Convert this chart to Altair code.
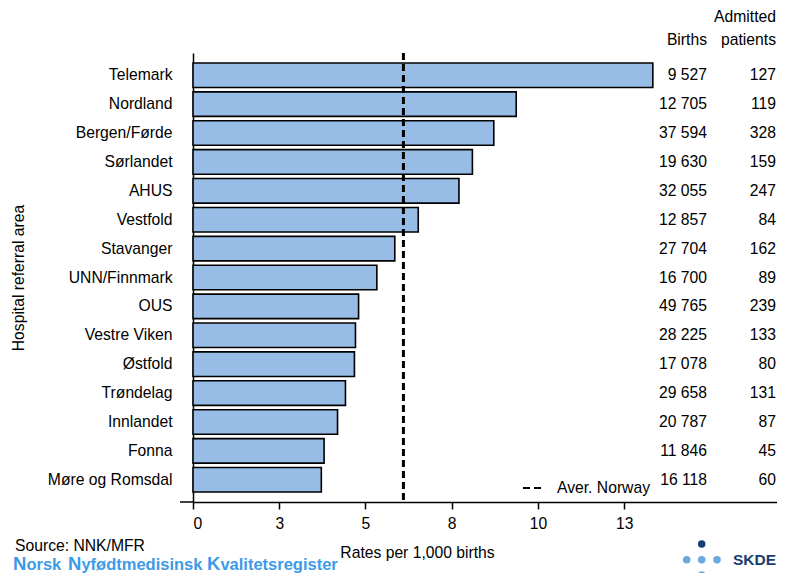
import altair as alt
import pandas as pd

# ---- data ----
areas = ["Telemark", "Nordland", "Bergen/Førde", "Sørlandet", "AHUS", "Vestfold",
         "Stavanger", "UNN/Finnmark", "OUS", "Vestre Viken", "Østfold", "Trøndelag",
         "Innlandet", "Fonna", "Møre og Romsdal"]
rates = [13.33, 9.37, 8.72, 8.10, 7.71, 6.53, 5.85, 5.33, 4.80, 4.71, 4.68, 4.42,
         4.19, 3.80, 3.72]
births = ["9 527", "12 705", "37 594", "19 630", "32 055", "12 857", "27 704", "16 700",
          "49 765", "28 225", "17 078", "29 658", "20 787", "11 846", "16 118"]
admitted = [127, 119, 328, 159, 247, 84, 162, 89, 239, 133, 80, 131, 87, 45, 60]
avg_norway = [6.1]
x_ticks = [0, 2.5, 5, 7.5, 10, 12.5]

W, H = 584, 449
FS = 15.7
FONT = "Liberation Sans"
NAVY = "#1b3c73"
LIGHT = "#6aa9e0"
REG_BLUE = "#3d9ae6"

df = pd.DataFrame({"area": areas, "rate": rates, "births": births, "admitted": admitted})
one = pd.DataFrame({"k": [0]})

xscale = alt.Scale(domain=[0, 16.93], nice=False, zero=True)
ysort = areas

bars = alt.Chart(df).mark_bar(fill="#97bce6", stroke="black", strokeWidth=1.6).encode(
    x=alt.X("rate:Q", scale=xscale,
            axis=alt.Axis(values=x_ticks, format=".0f", grid=False, tickSize=7,
                          tickColor="black", tickWidth=1.5, domainColor="black",
                          domainWidth=1.5, labelFontSize=FS, labelColor="black",
                          labelPadding=7, title="Rates per 1,000 births",
                          titleFontSize=FS, titleFontWeight="normal", titleColor="black",
                          titleX=224, titleY=50, titleAlign="center",
                          titleBaseline="middle")),
    y=alt.Y("area:N", sort=ysort,
            scale=alt.Scale(paddingInner=0.15, paddingOuter=0.345),
            axis=alt.Axis(ticks=False, tickSize=0, labelPadding=21, labelFontSize=FS,
                          labelColor="black", domainColor="black", domainWidth=1.5,
                          grid=False, title="Hospital referral area", titleFontSize=FS,
                          titleFontWeight="normal", titleColor="black", titleX=-175,
                          titleY=H / 2, titleAngle=-90, titleAlign="center",
                          titleBaseline="middle")),
)

avg_df = pd.DataFrame({"avg": avg_norway})
avg_rule = alt.Chart(avg_df).mark_rule(color="black", strokeWidth=3, strokeDash=[7, 4]).encode(
    x=alt.X("avg:Q", scale=xscale)
)

births_txt = alt.Chart(df).mark_text(align="right", baseline="middle", fontSize=FS,
                                     color="black").encode(
    y=alt.Y("area:N", sort=ysort), x=alt.value(514), text="births:N")
adm_txt = alt.Chart(df).mark_text(align="right", baseline="middle", fontSize=FS,
                                  color="black").encode(
    y=alt.Y("area:N", sort=ysort), x=alt.value(583), text="admitted:Q")


def label(txt, x, y, align="left", size=FS, weight="normal", color="black",
          baseline="middle"):
    return alt.Chart(one).mark_text(text=txt, align=align, baseline=baseline, fontSize=size,
                                    fontWeight=weight, color=color).encode(
        x=alt.value(x), y=alt.value(y))


def dot(x, y, color):
    return alt.Chart(one).mark_circle(size=57, color=color, opacity=1).encode(
        x=alt.value(x), y=alt.value(y))


axis_ext = alt.Chart(one).mark_rule(color="black", strokeWidth=1.5).encode(
    x=alt.value(-13), x2=alt.value(0), y=alt.value(H))

legend_dash = alt.Chart(one).mark_rule(color="black", strokeWidth=2, strokeDash=[7, 4]).encode(
    x=alt.value(330), x2=alt.value(348), y=alt.value(435))

REG_Y = 516.5  # alphabetic baseline of registry name
CAP = 18.5
LOW = 16.5
layers = [
    bars, avg_rule, births_txt, adm_txt, axis_ext, legend_dash,
    label("Aver. Norway", 364, 435),
    label("Births", 514, -13, align="right"),
    label("Admitted", 583, -36, align="right"),
    label("patients", 583, -13, align="right"),
    label("Source: NNK/MFR", -178, 493),
    # registry name with enlarged initials
    label("N", -180, REG_Y, size=CAP, weight="bold", color=REG_BLUE, baseline="alphabetic"),
    label("orsk", -166.6, REG_Y, size=LOW, weight="bold", color=REG_BLUE, baseline="alphabetic"),
    label("N", -125, REG_Y, size=CAP, weight="bold", color=REG_BLUE, baseline="alphabetic"),
    label("yfødtmedisinsk", -111.6, REG_Y, size=LOW, weight="bold", color=REG_BLUE,
          baseline="alphabetic"),
    label("K", 14, REG_Y, size=CAP, weight="bold", color=REG_BLUE, baseline="alphabetic"),
    label("valitetsregister", 27.4, REG_Y, size=LOW, weight="bold", color=REG_BLUE,
          baseline="alphabetic"),
    # SKDE logo
    dot(508.7, 491, NAVY),
    dot(493.7, 506.7, LIGHT), dot(508.7, 506.7, LIGHT), dot(524, 506.7, LIGHT),
    dot(508.7, 522, LIGHT),
    label("SKDE", 540, 506.5, size=15.5, weight="bold", color=NAVY),
]

chart = alt.layer(*layers).properties(
    width=W, height=H,
    autosize=alt.AutoSizeParams(type="none"),
    padding={"left": 185, "top": 45, "right": 0, "bottom": 71},
).configure(font=FONT).configure_view(stroke=None)

chart.save("out.html", embed_options={"renderer": "svg", "actions": False})
